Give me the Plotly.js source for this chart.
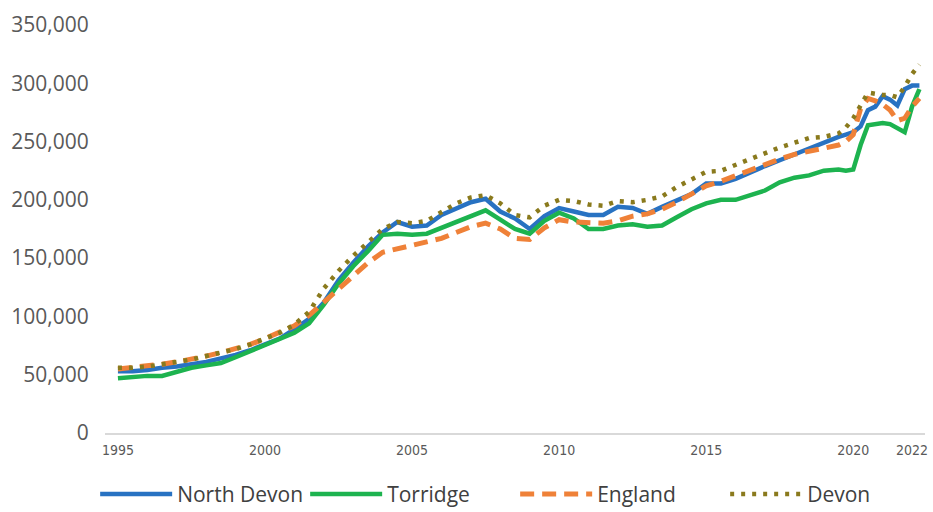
<!DOCTYPE html>
<html>
<head>
<meta charset="utf-8">
<script src="https://cdn.plot.ly/plotly-3.0.1.min.js"></script>
<style>html,body{margin:0;padding:0;background:#fff;}#chart{width:933px;height:512px;}</style>
</head>
<body>
<div id="chart"></div>
<script>
// Dates (decimal years): half-yearly to mid-2019, then quarterly
var dates = [1995.0,1995.5,1996.0,1996.5,1997.0,1997.5,1998.0,1998.5,1999.0,1999.5,
  2000.0,2000.5,2001.0,2001.5,2002.0,2002.5,2003.0,2003.5,2004.0,2004.5,
  2005.0,2005.5,2006.0,2006.5,2007.0,2007.5,2008.0,2008.5,2009.0,2009.5,
  2010.0,2010.5,2011.0,2011.5,2012.0,2012.5,2013.0,2013.5,2014.0,2014.5,
  2015.0,2015.5,2016.0,2016.5,2017.0,2017.5,2018.0,2018.5,2019.0,2019.5,
  2019.75,2020.0,2020.25,2020.5,2020.75,2021.0,2021.25,2021.5,2021.75,2022.0,2022.25];

var northDevon = [53000,53000,54000,56000,57000,59000,61000,64000,67000,71000,
  76000,81000,89000,98000,112000,131000,146000,160000,172000,181000,
  177000,178000,187000,193000,198000,201000,190000,184000,175000,186000,
  193000,190000,187000,187000,194000,193000,188000,194000,199000,205000,
  214000,214000,218000,224000,229000,234000,239000,245000,250000,254000,
  256000,258000,263000,277000,280000,289000,286000,281000,295000,298000,298000];

var torridge = [47000,48000,49000,49000,53000,56000,58000,60000,65000,70000,
  75000,80000,86000,94000,110000,128000,143000,156000,170000,171000,
  170000,171000,176000,180000,186000,191000,183000,175000,171000,182000,
  189000,184000,175000,175000,178000,179000,177000,178000,185000,192000,
  197000,200000,200000,204000,208000,215000,219000,221000,225000,226000,
  225000,226000,247000,264000,265000,266000,265000,262000,258000,280000,295000];

var england = [55000,56000,57000,59000,61000,63000,66000,69000,72000,76000,
  81000,86000,92000,101000,112000,124000,135000,146000,155000,158000,
  161000,163000,167000,172000,177000,180000,175000,167000,166000,176000,
  183000,181000,180000,180000,182000,186000,188000,192000,198000,205000,
  212000,216000,221000,226000,231000,235000,239000,242000,244000,247000,
  250000,256000,278000,287000,285000,282000,277000,268000,270000,280000,287000];

var devon = [56000,56000,57000,59000,61000,63000,66000,69000,72000,76000,
  81000,86000,93000,104000,124000,139000,152000,164000,175000,181000,
  180000,182000,190000,197000,202000,204000,197000,187000,185000,195000,
  200000,199000,196000,195000,199000,198000,200000,203000,211000,217000,
  224000,225000,230000,236000,241000,245000,249000,253000,254000,257000,
  262000,270000,281000,292000,291000,290000,290000,288000,297000,308000,316000];

var xTicks = [1995,2000,2005,2010,2015,2020,2022];
var yTicks = [0,50000,100000,150000,200000,250000,300000,350000];

var traces = [
  {name:'North Devon', x:dates, y:northDevon, mode:'lines', line:{color:'#2872c2', width:4.5}},
  {name:'Torridge', x:dates, y:torridge, mode:'lines', line:{color:'#1db34f', width:4.5}},
  {name:'England', x:dates, y:england, mode:'lines', line:{color:'#ef8138', width:5, dash:'14px,8px'}},
  {name:'Devon', x:dates, y:devon, mode:'lines', line:{color:'#8a7a1d', width:4.5, dash:'4px,7px'}}
];

var layout = {
  width:933, height:512,
  margin:{l:105, r:8, t:25, b:79, autoexpand:false},
  paper_bgcolor:'#ffffff', plot_bgcolor:'#ffffff',
  showlegend:true,
  legend:{orientation:'h', x:-0.012, xanchor:'left', y:-0.1, yanchor:'top',
    font:{family:'Open Sans, sans-serif', size:21, color:'#404040'}, itemwidth:72, tracegroupgap:0,
    entrywidth:123, entrywidthmode:'pixels'},
  xaxis:{range:[1994.56,2022.44], tickmode:'array', tickvals:xTicks, ticktext:xTicks.map(String),
    showgrid:false, zeroline:false, showline:true, linecolor:'#d9d9d9', linewidth:1.5,
    ticks:'outside', ticklen:4, tickcolor:'rgba(0,0,0,0)',
    tickfont:{family:'Liberation Sans Narrow, DejaVu Sans Condensed, sans-serif', size:14, color:'#595959'}},
  yaxis:{range:[0,350000], tickmode:'array', tickvals:yTicks, ticktext:yTicks.map(function(v){return v.toLocaleString('en-GB');}),
    showgrid:false, zeroline:false, showline:false,
    ticks:'outside', ticklen:11, tickcolor:'rgba(0,0,0,0)',
    tickfont:{family:'Open Sans, sans-serif', size:21, color:'#595959'}}
};

Plotly.newPlot('chart', traces, layout, {displayModeBar:false, staticPlot:true});
</script>
</body>
</html>
